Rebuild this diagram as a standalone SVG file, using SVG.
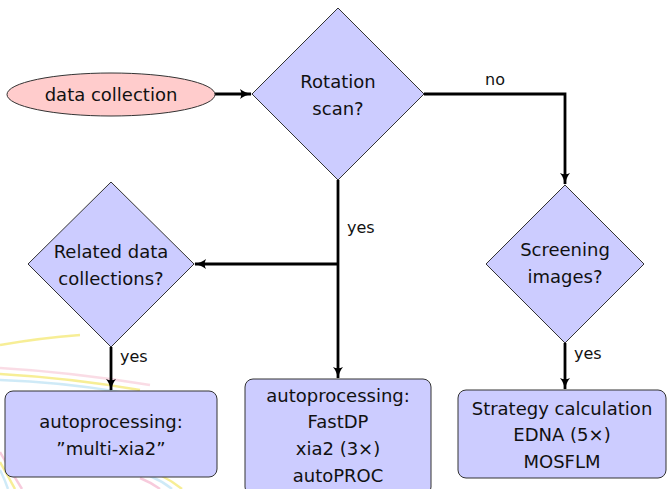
<svg xmlns="http://www.w3.org/2000/svg" width="667" height="489" viewBox="0 0 667 489">
<style>
  .dia { fill: #ccccff; stroke: #333; stroke-width: 1; }
  .box { fill: #ccccff; stroke: #333; stroke-width: 1; }
  .ell { fill: #ffcccc; stroke: #333; stroke-width: 1; }
  .t { font-family: "DejaVu Sans", sans-serif; font-size: 18px; fill: #111; text-anchor: middle; }
  .lbl { font-family: "DejaVu Sans", sans-serif; font-size: 16px; fill: #111; }
  .con { fill: none; stroke: #000; stroke-width: 2.8; }
  .sw { fill: none; stroke-width: 2.5; opacity: 0.55; }
</style>
<defs>
  <marker id="ah" viewBox="0 0 12 10" refX="11" refY="5" markerWidth="12" markerHeight="10" markerUnits="userSpaceOnUse" orient="auto">
    <path d="M0,0 Q5,4 12,5 Q5,6 0,10 Q2.5,5 0,0 z" fill="#000"/>
  </marker>
</defs>
<rect width="667" height="489" fill="#fff"/>
<g id="background">
  <path class="sw" stroke="#f0e040" d="M0,345 Q40,338 80,335"/>
  <path class="sw" stroke="#f5c0d0" d="M0,368 Q70,372 150,385"/>
  <path class="sw" stroke="#f0e040" d="M0,374 Q70,378 140,390"/>
  <path class="sw" stroke="#a8d8f0" d="M0,380 Q60,382 120,392"/>
  <path class="sw" stroke="#f0a0c0" d="M0,452 Q10,470 22,489"/>
  <path class="sw" stroke="#f0e040" d="M0,462 Q8,476 15,489"/>
  <path class="sw" stroke="#a8d8f0" d="M0,470 Q5,480 8,489"/>
  <path class="sw" stroke="#f0a0c0" d="M140,478 Q150,482 160,489"/>
  <path class="sw" stroke="#a8d8f0" d="M150,476 Q162,481 172,489"/>
  <path class="sw" stroke="#f0e040" d="M160,475 Q172,481 182,489"/>
</g>
<g id="connectors">
  <line class="con" x1="215" y1="94" x2="251" y2="94" marker-end="url(#ah)"/>
  <polyline class="con" points="424,94 565,94 565,184" marker-end="url(#ah)"/>
  <line class="con" x1="338" y1="180" x2="338" y2="378" marker-end="url(#ah)"/>
  <line class="con" x1="338" y1="264" x2="195" y2="264" marker-end="url(#ah)"/>
  <line class="con" x1="111" y1="347" x2="111" y2="390" marker-end="url(#ah)"/>
  <line class="con" x1="565" y1="343" x2="565" y2="389" marker-end="url(#ah)"/>
  <text class="lbl" x="495" y="85" text-anchor="middle">no</text>
  <text class="lbl" x="347" y="233">yes</text>
  <text class="lbl" x="120" y="362">yes</text>
  <text class="lbl" x="574" y="359">yes</text>
</g>
<g id="data-collection">
  <ellipse class="ell" cx="111" cy="94.5" rx="104" ry="21.5"/>
  <text class="t" x="111" y="101">data collection</text>
</g>
<g id="rotation-scan">
  <polygon class="dia" points="338,8 424,94 338,180 252,94"/>
  <text class="t" x="338" y="88">Rotation</text>
  <text class="t" x="338" y="115">scan?</text>
</g>
<g id="related">
  <polygon class="dia" points="111,182 194,264 111,347 28,264"/>
  <text class="t" x="111" y="258">Related data</text>
  <text class="t" x="111" y="285">collections?</text>
</g>
<g id="screening">
  <polygon class="dia" points="565,185 644,264 565,343 486,264"/>
  <text class="t" x="565" y="256">Screening</text>
  <text class="t" x="565" y="283">images?</text>
</g>
<g id="multi-xia2">
  <rect class="box" x="5" y="391" width="212" height="86" rx="8"/>
  <text class="t" x="111" y="428">autoprocessing:</text>
  <text class="t" x="111" y="455">”multi-xia2”</text>
</g>
<g id="autoprocessing">
  <rect class="box" x="245" y="379" width="186" height="116" rx="8"/>
  <text class="t" x="338" y="402">autoprocessing:</text>
  <text class="t" x="338" y="428">FastDP</text>
  <text class="t" x="338" y="455">xia2 (3×)</text>
  <text class="t" x="338" y="482">autoPROC</text>
</g>
<g id="strategy">
  <rect class="box" x="458" y="390" width="208" height="88" rx="8"/>
  <text class="t" x="562" y="415">Strategy calculation</text>
  <text class="t" x="562" y="441">EDNA (5×)</text>
  <text class="t" x="562" y="468">MOSFLM</text>
</g>
</svg>
